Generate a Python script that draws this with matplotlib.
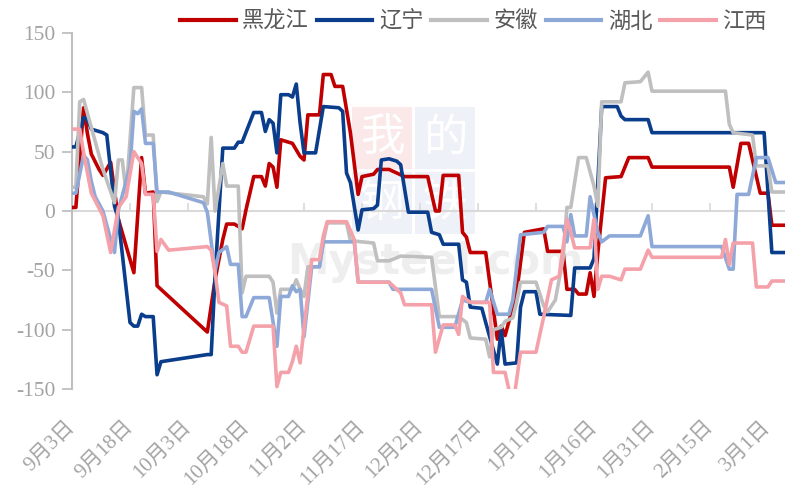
import matplotlib
matplotlib.use("Agg")
import matplotlib.pyplot as plt
from matplotlib.patches import Rectangle

# ---------------- data (day offsets from 2023-09-03) ----------------
xtick_days = [0, 15, 30, 45, 60, 75, 90, 105, 120, 135, 150, 165, 180]
xtick_labels = ['9月3日', '9月18日', '10月3日', '10月18日', '11月2日', '11月17日',
                '12月2日', '12月17日', '1月1日', '1月16日', '1月31日', '2月15日', '3月1日']
ytick_vals = [150, 100, 50, 0, -50, -100, -150]
ytick_labels = ['150', '100', '50', '0', '-50', '-100', '-150']

series_names = ['黑龙江', '辽宁', '安徽', '湖北', '江西']

hlj_day = [0,1,3,4,5,7,8,10,12,16,18,19,21,22,25,35,37,39,40,42,44,45,47,49,50,51,52,53,54,57,
           59,60,61,64,65,67,68,70,72,74,75,78,79,82,86,92,94,95,96,100,101,102,103,107,110,111,
           112,115,117,122,123,127,128,130,131,133,134,135,136,138,142,144,149,150,170,171,173,
           175,176,178,180,181,184]
hlj_val = [3,3,87,65,48,35,30,41,-7,-52,45,15,16,-63,-72,-102,-58,-24,-11,-11,-15,1,29,29,21,40,
           37,20,60,57,46,43,81,81,115,115,105,105,66,14,29,31,35,35,29,29,0,0,30,30,-18,-22,-35,
           -35,-108,-97,-105,-69,-18,-15,-34,-34,-66,-66,-70,-70,-52,-72,-35,28,29,45,45,37,37,20,
           57,57,43,15,15,-12,-12]

ln_day = [0,1,3,4,5,8,9,11,12,15,16,17,18,19,21,22,23,35,36,37,39,42,43,44,47,49,50,51,52,53,
          54,56,57,58,59,60,63,65,69,70,71,72,74,75,78,79,80,82,84,85,87,92,93,95,96,100,101,102,
          103,106,107,110,111,112,115,116,117,120,121,129,130,134,135,137,141,142,143,149,150,
          179,181,184]
ln_val = [54,54,79,77,69,66,64,4,-7,-94,-97,-97,-87,-89,-89,-138,-127,-121,-121,-55,53,53,58,58,
          83,83,67,77,74,49,98,98,96,107,74,49,49,88,87,84,32,24,-16,1,2,5,43,44,42,39,-1,-1,-18,
          -20,-28,-28,-58,-60,-81,-82,-94,-129,-100,-129,-128,-81,-68,-68,-87,-88,-48,-48,-40,88,
          88,80,77,77,66,66,-35,-35]

ah_day = [0,1,2,3,8,11,12,13,14,16,18,19,21,22,23,34,35,36,37,39,40,43,44,45,51,52,53,54,57,58,
          59,60,61,64,65,66,71,72,78,79,82,85,93,95,100,102,103,107,108,109,111,112,114,115,116,
          120,122,123,125,127,128,129,131,133,135,136,137,142,143,147,149,150,169,170,171,176,
          177,180,181,184]
ah_val = [20,20,92,94,35,7,43,43,15,104,104,64,64,8,16,12,6,62,0,40,21,21,-69,-55,-55,-60,-86,
          -66,-66,-58,-66,-72,-47,-47,-26,-10,-10,-25,-27,-42,-42,-38,-39,-89,-89,-94,-107,-108,
          -123,-100,-98,-93,-90,-77,-60,-60,-80,-85,-75,-40,3,3,45,45,21,4,92,92,108,109,117,101,
          101,73,66,64,38,38,16,16]

hb_day = [0,1,3,4,5,6,8,10,11,12,15,16,17,18,19,21,22,25,34,35,37,38,40,41,43,44,45,47,51,53,
          54,56,57,58,59,60,62,64,65,73,74,82,83,93,95,99,101,103,107,108,110,113,114,116,122,123,
          127,128,129,130,133,134,136,137,139,147,149,150,168,170,171,172,175,177,180,182,184]
hb_val = [15,15,47,43,25,12,0,-24,-35,1,37,84,82,86,57,57,16,16,7,-1,-51,-35,-30,-45,-45,-89,-89,
          -73,-73,-114,-72,-72,-63,-68,-66,-106,-47,-47,-26,-26,-60,-60,-66,-66,-98,-98,-75,-77,
          -77,-66,-87,-87,-75,-20,-18,-13,-13,-26,-3,-21,-21,12,-18,-26,-21,-21,-4,-30,-30,-49,
          -49,14,14,45,45,24,24]

jx_day = [0,2,3,5,8,10,12,14,16,18,19,21,22,23,25,35,36,37,38,40,41,43,44,45,47,52,53,54,56,57,
          58,59,62,64,65,66,71,73,74,82,85,86,93,94,96,99,100,101,103,108,109,112,114,116,120,122,
          124,126,128,129,130,134,135,136,137,139,142,143,147,149,150,168,169,170,171,176,177,180,
          181,184]
jx_val = [69,69,49,15,-4,-35,3,12,50,40,14,14,-34,-24,-33,-30,-33,-52,-77,-80,-114,-114,-119,
          -119,-97,-97,-148,-136,-136,-127,-114,-128,-41,-41,-21,-9,-9,-24,-60,-60,-69,-79,-79,
          -119,-96,-96,-104,-72,-77,-77,-136,-136,-165,-119,-119,-89,-58,-55,-7,-18,-31,-31,-7,
          -66,-55,-55,-58,-49,-49,-33,-39,-39,-24,-45,-27,-27,-64,-64,-59,-59]

colors = ['#C00000', '#0A3D8C', '#BFBFBF', '#8EA9D8', '#F4A1AA']

serif_cjk = ['Liberation Serif', 'Noto Sans CJK SC', 'DejaVu Sans']
plt.rcParams['font.family'] = serif_cjk

# ---------------- figure ----------------
W, H = 785, 491
fig = plt.figure(figsize=(W / 100, H / 100), dpi=100)

# background watermark axes (behind the chart)
bg = fig.add_axes([0, 0, 1, 1], zorder=0)
bg.set_xlim(0, W)
bg.set_ylim(H, 0)
bg.axis('off')
wm_tiles = [(352, 107, '#FBE9E9', '我'), (415, 107, '#EEF1F7', '的'),
            (352, 172, '#EEF1F7', '钢'), (415, 172, '#EEF1F7', '铁')]
for (tx, ty, tc, ch) in wm_tiles:
    bg.add_patch(Rectangle((tx, ty), 60, 62, facecolor=tc, edgecolor='none'))
    bg.text(tx + 30, ty + 31, ch, color='white', fontsize=32,
            family=['Noto Sans CJK SC'], ha='center', va='center')
bg.text(435, 262, 'Mysteel.com', color='#EEEEEE', fontsize=30,
        fontweight='bold', family=['DejaVu Sans'], ha='center', va='center')

ax = fig.add_axes([72 / W, 1 - 389 / H, (W - 72) / W, (389 - 33) / H], zorder=2)
ax.set_facecolor('none')

label_gray = '#A3A3A3'

# zero line with tick marks
ax.axhline(0, color='#D9D9D9', lw=1.5, zorder=1)
sec = ax.secondary_xaxis(0.5)
sec.set_xticks(xtick_days)
sec.set_xticklabels([])
sec.tick_params(axis='x', length=6, width=1.2, colors='#D9D9D9', direction='out')
for s in sec.spines.values():
    s.set_visible(False)

all_days = [hlj_day, ln_day, ah_day, hb_day, jx_day]
all_vals = [hlj_val, ln_val, ah_val, hb_val, jx_val]
for name, d, v, c in zip(series_names, all_days, all_vals, colors):
    ax.plot(d, v, color=c, lw=2.6, label=name, solid_joinstyle='round', zorder=3)

ax.set_xlim(0, 184.4)
ax.set_ylim(-150, 150)

# y axis
ax.set_yticks(ytick_vals)
ax.set_yticklabels(ytick_labels, fontsize=15.5, color=label_gray)
ax.tick_params(axis='y', length=7, width=1.3, color='#BFBFBF', pad=5, direction='out')
for s in ['top', 'right', 'bottom']:
    ax.spines[s].set_visible(False)
ax.spines['left'].set_color('#BFBFBF')
ax.spines['left'].set_linewidth(1.5)

# x labels at the bottom
ax.set_xticks(xtick_days)
ax.set_xticklabels(xtick_labels, fontsize=15, color=label_gray,
                   rotation=45, ha='right', va='center', rotation_mode='anchor')
ax.tick_params(axis='x', length=0, pad=25)

leg = fig.legend(loc='center left', bbox_to_anchor=(180 / W, 1 - 22 / H), ncol=5,
                 frameon=False, borderpad=0, borderaxespad=0, handlelength=2.5,
                 handletextpad=0.3, columnspacing=0.35,
                 prop={'family': serif_cjk, 'size': 16})
for t in leg.get_texts():
    t.set_color('#595959')
for l in leg.get_lines():
    l.set_linewidth(3)

fig.savefig('out.png', dpi=100)
